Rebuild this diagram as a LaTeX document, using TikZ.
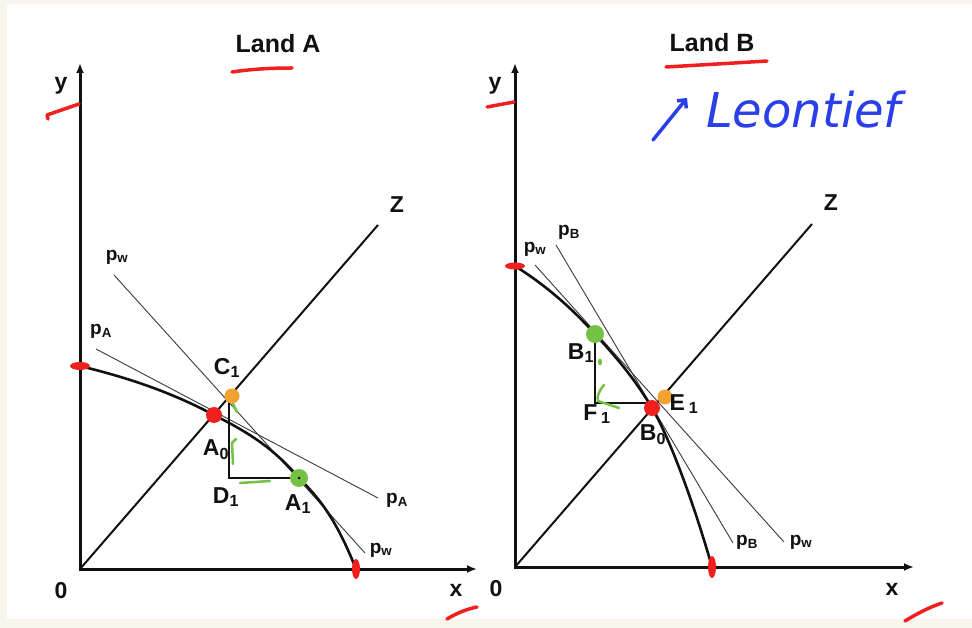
\documentclass[tikz,border=0pt]{standalone}
\usepackage{fontspec}
\setmainfont{Liberation Sans}
\newfontfamily\handfont{DejaVu Sans}
\usepackage{tikz}
\usetikzlibrary{arrows.meta,positioning,calc}
\definecolor{cPaper}{HTML}{F7F5EC}
\definecolor{cInk}{HTML}{111111}
\definecolor{cThin}{HTML}{3A3A3A}
\definecolor{cRed}{HTML}{F0201E}
\definecolor{cOrange}{HTML}{F3A232}
\definecolor{cGreen}{HTML}{74C244}
\definecolor{cBlue}{HTML}{2A3EEA}
\tikzset{
  axisline/.style={line width=3pt,draw=cInk,{Latex[length=10pt,width=8pt]}-{Latex[length=10pt,width=8pt]}},
  zline/.style={line width=2pt,cInk},
  tcurve/.style={line width=2.6pt,cInk,line join=round},
  price/.style={line width=0.9pt,cThin},
  guide/.style={line width=1.3pt,cInk},
  lbl/.style={inner sep=0pt,font=\fontsize{23}{26}\selectfont\bfseries,text=cInk},
  plbl/.style={inner sep=0pt,font=\fontsize{19}{21}\selectfont\bfseries,text=cInk},
  title/.style={inner sep=0pt,font=\fontsize{25}{28}\selectfont\bfseries,text=cInk},
  redpen/.style={line width=3.5pt,cRed,line cap=round,line join=round},
  greenpen/.style={line width=2.5pt,cGreen,line cap=round,line join=round},
  bluepen/.style={line width=3.5pt,cBlue,line cap=round,line join=round},
  dotR/.style={circle,fill=cRed,inner sep=0pt,minimum size=16pt},
  dotO/.style={circle,fill=cOrange,inner sep=0pt,minimum size=15pt},
  dotG/.style={circle,fill=cGreen,inner sep=0pt,minimum size=18pt},
}
\begin{document}
\begin{tikzpicture}[x=1pt,y=-1pt]
  % paper
  \useasboundingbox (0,0) rectangle (972,628);
  \fill[cPaper] (0,0) rectangle (972,628);
  \fill[white] (7,4) rectangle (972,619);

  % Land A
  \coordinate (oA) at (80,569);
  \coordinate (yA) at (80,63);
  \coordinate (xA) at (477,569);
  \coordinate (zA) at (378,225);
  \coordinate (pwA1) at (114,275);
  \coordinate (pwA2) at (365,553);
  \coordinate (paA1) at (96,349);
  \coordinate (paA2) at (378,498);
  \coordinate (tyA) at (80,366);
  \coordinate (a0) at (214,415);
  \coordinate (a1) at (299,478);
  \coordinate (txA) at (356,569);
  \coordinate (c1) at (229,400);
  \coordinate (d1) at (229,478);
  \draw[axisline] (yA) -- (oA) -- (xA);
  \draw[zline] (oA) -- (zA);
  \draw[price] (pwA1) -- (pwA2);
  \draw[price] (paA1) -- (paA2);
  \draw[tcurve] (tyA) .. controls (125,377) and (169,391) .. (a0)
    .. controls (243,430) and (271,445) .. (a1)
    .. controls (320,499) and (336,519) .. (txA);
  \draw[guide] (c1) -- (d1) -- (a1);
  \node[dotR] (A0) at (a0) {};
  \node[dotO] (C1) at (232,396) {};
  \node[dotG] (A1) at (a1) {};
  \fill[cInk] (a1) circle (1.5pt);
  \fill[cRed] (tyA) ellipse [x radius=10pt,y radius=4pt];
  \fill[cRed] (txA) ellipse [x radius=4pt,y radius=10pt];
  \node[title] (landA) at (278,44) {Land A};
  \node[lbl] (ylA) at (61,86) {y};
  \node[lbl] (olA) at (61,591) {0};
  \node[lbl] (xlA) at (456,590) {x};
  \node[lbl] (zlA) at (397,205) {Z};
  \node[plbl] (pwlA1) at (117,257) {p\textsubscript{w}};
  \node[plbl] (palA1) at (101,331) {p\textsubscript{A}};
  \node[plbl] (palA2) at (397,500) {p\textsubscript{A}};
  \node[plbl] (pwlA2) at (381,550) {p\textsubscript{w}};
  \node[lbl] (c1l) at (227,368) {C\textsubscript{1}};
  \node[lbl] (a0l) at (216,450) {A\textsubscript{0}};
  \node[lbl] (d1l) at (226,497) {D\textsubscript{1}};
  \node[lbl] (a1l) at (298,504) {A\textsubscript{1}};
  % pen marks A
  \draw[redpen] (232,72) .. controls (252,69) and (272,68) .. (292,68);
  \draw[redpen] (48,119) -- (47,115) -- (79,104);
  \draw[redpen] (447,619) .. controls (457,613) and (467,609) .. (477,607);
  \draw[greenpen] (233,404) -- (237,412);
  \draw[greenpen] (236,439) -- (232,443) -- (233,464);
  \draw[greenpen] (240,483) -- (270,481);

  % Land B
  \coordinate (oB) at (515,567);
  \coordinate (yB) at (515,63);
  \coordinate (xB) at (914,567);
  \coordinate (zB) at (812,224);
  \coordinate (pwB1) at (535,265);
  \coordinate (pwB2) at (784,542);
  \coordinate (pbB1) at (556,245);
  \coordinate (pbB2) at (733,543);
  \coordinate (tyB) at (515,266);
  \coordinate (b1) at (595,334);
  \coordinate (b0) at (652,408);
  \coordinate (txB) at (712,567);
  \coordinate (f1) at (595,403);
  \draw[axisline] (yB) -- (oB) -- (xB);
  \draw[zline] (oB) -- (zB);
  \draw[price] (pwB1) -- (pwB2);
  \draw[price] (pbB1) -- (pbB2);
  \draw[tcurve] (tyB) .. controls (542,283) and (568,304) .. (b1)
    .. controls (614,355) and (633,376) .. (b0)
    .. controls (672,442) and (697,514) .. (txB);
  \draw[guide] (b1) -- (f1) -- (f1 -| b0);
  \node[dotG] (B1) at (b1) {};
  \node[dotR] (B0) at (b0) {};
  \node[dotO] (E1) at (665,397) {};
  \fill[cRed] (tyB) ellipse [x radius=10pt,y radius=3.5pt];
  \fill[cRed] (txB) ellipse [x radius=4pt,y radius=11pt];
  \node[title] (landB) at (712,43) {Land B};
  \node[lbl] (ylB) at (495,86) {y};
  \node[lbl] (olB) at (496,589) {0};
  \node[lbl] (xlB) at (892,589) {x};
  \node[lbl] (zlB) at (831,203) {Z};
  \node[plbl] (pblB1) at (569,232) {p\textsubscript{B}};
  \node[plbl] (pwlB1) at (535,249) {p\textsubscript{w}};
  \node[plbl] (pblB2) at (747,542) {p\textsubscript{B}};
  \node[plbl] (pwlB2) at (801,542) {p\textsubscript{w}};
  \node[lbl] (b1l) at (581,353) {B\textsubscript{1}};
  \node[lbl] (f1l) at (597,414) {F\,\textsubscript{1}};
  \node[lbl] (e1l) at (684,404) {E\,\textsubscript{1}};
  \node[lbl] (b0l) at (653,435) {B\textsubscript{0}};
  % pen marks B
  \draw[redpen] (666,67) .. controls (700,65) and (735,63) .. (767,61);
  \draw[redpen] (487,107) -- (514,102);
  \draw[redpen] (905,621) .. controls (918,613) and (930,607) .. (942,603);
  \fill[cGreen] (600,362) ellipse [x radius=2pt,y radius=3.5pt];
  \draw[greenpen] (604,385) .. controls (598,392) and (597,397) .. (598,401) -- (619,408);
  % Leontief note
  \coordinate (arrS) at (653,140);
  \coordinate (arrE) at (687,98);
  \draw[bluepen,-{Straight Barb[length=6pt,width=12pt]}] (arrS) -- (arrE);
  \node[anchor=base west,inner sep=0pt,text=cBlue,
    font=\handfont\itshape\fontsize{48}{52}\selectfont] (leon) at (706,128) {Leontief};
\end{tikzpicture}
\end{document}
